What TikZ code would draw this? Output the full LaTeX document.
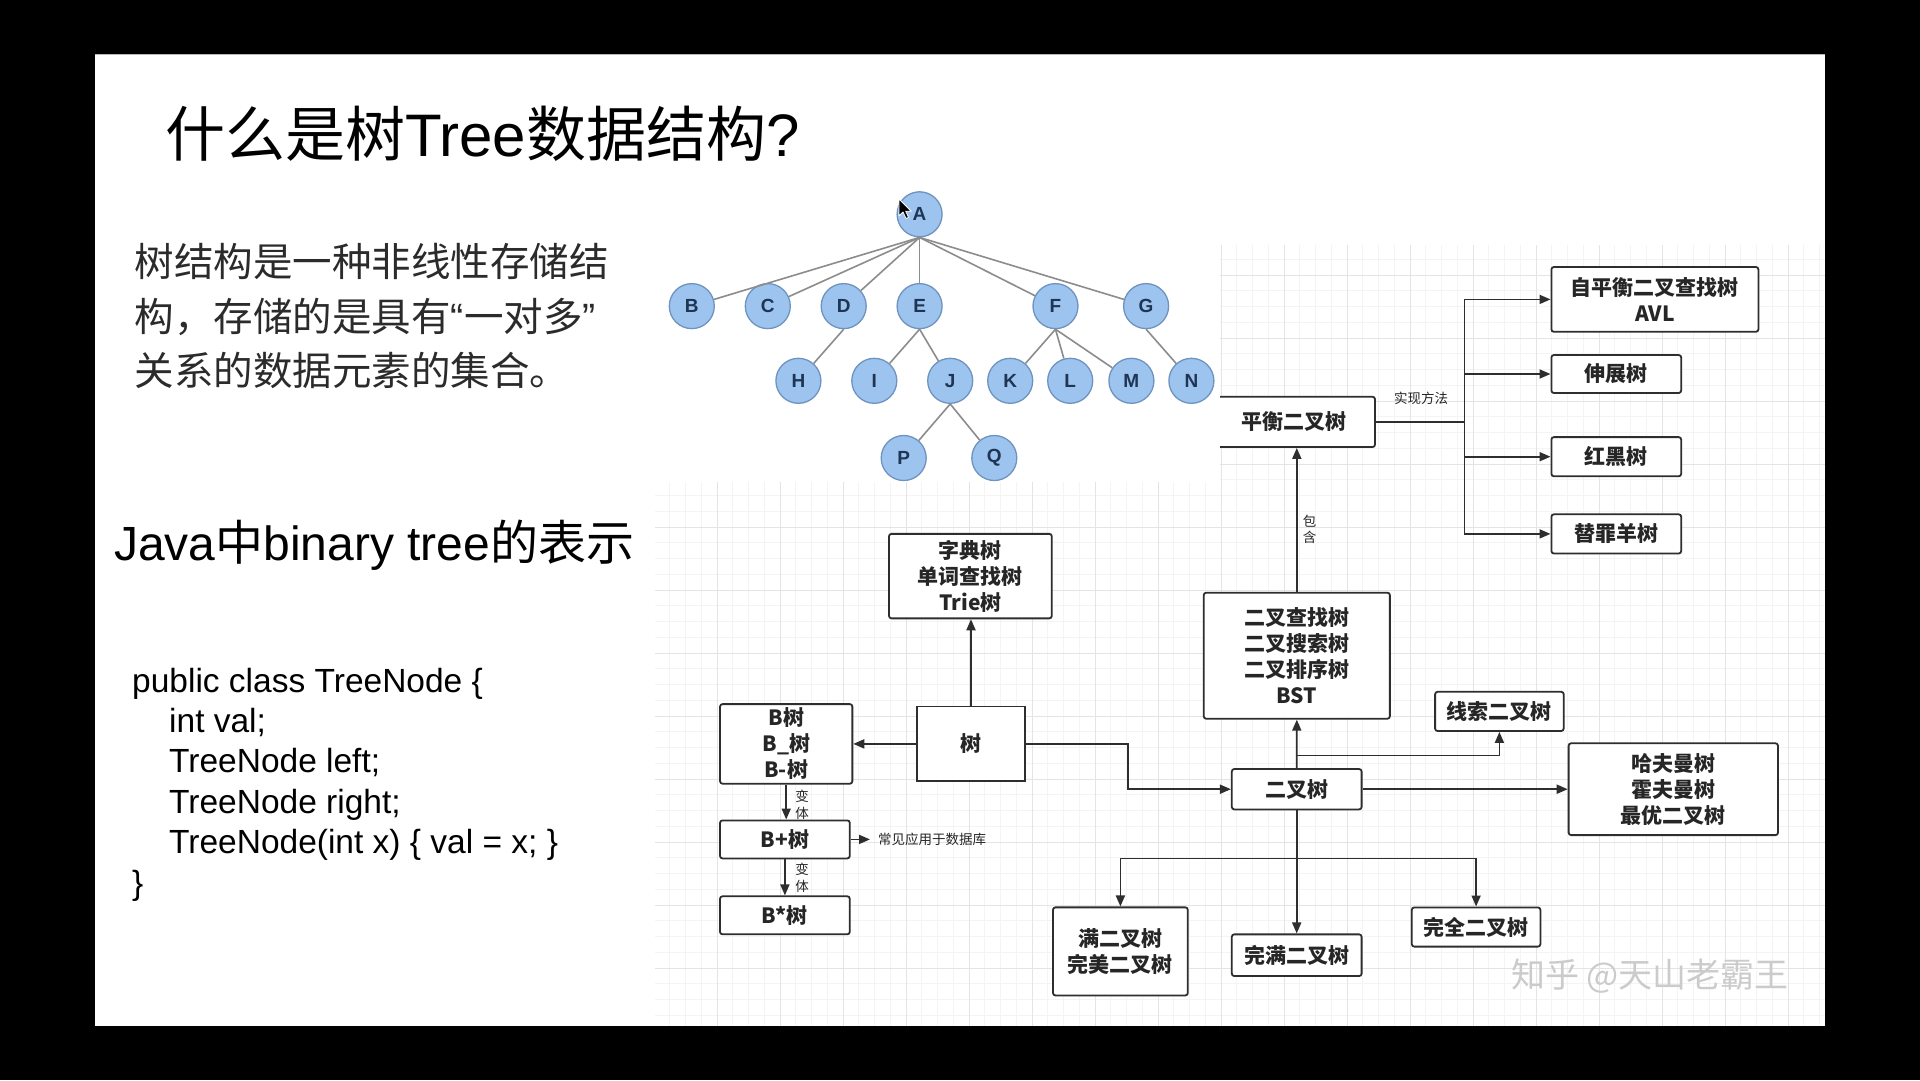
\documentclass[tikz,border=0pt]{standalone}
\usepackage{fontspec}
\setmainfont{Liberation Sans}
\newfontfamily\cjk{Noto Sans CJK SC}
\usetikzlibrary{arrows.meta}

\definecolor{tfill}{HTML}{9DC3EF}
\definecolor{tborder}{HTML}{6E93BF}
\definecolor{tlabel}{HTML}{1E3554}
\definecolor{tline}{HTML}{8C8C8C}
\definecolor{boxline}{HTML}{2E2E2E}
\definecolor{textdark}{HTML}{262626}
\definecolor{paracol}{HTML}{2B2B2B}
\definecolor{gridmajor}{HTML}{E4E4E4}
\definecolor{gridminor}{HTML}{F4F4F4}
\definecolor{wmark}{HTML}{CBCBCB}

\begin{document}
\begin{tikzpicture}[x=1pt,y=-1pt,
  tnode/.style={circle, fill=tfill, draw=tborder, line width=1.3pt, minimum size=45pt,
    inner sep=0pt, text=tlabel, font=\bfseries\fontsize{19}{19}\selectfont},
  tedge/.style={draw=tline, line width=1.6pt},
  box/.style={draw=boxline, line width=1.8pt, rounded corners=2.5pt, fill=white,
    align=center, inner sep=0pt, text=textdark,
    font=\cjk\bfseries\fontsize{21}{26}\selectfont},
  conn/.style={draw=boxline, line width=1.8pt},
  arr/.style={conn, -{Triangle[length=11pt,width=9pt]}},
  lbl/.style={inner sep=0pt, text=textdark, align=center,
    font=\cjk\fontsize{13.5}{16}\selectfont},
  para/.style={anchor=base west, inner sep=0pt, text=paracol,
    font=\cjk\fontsize{39.5}{40}\selectfont},
  code/.style={anchor=base west, inner sep=0pt, text=black,
    font=\fontsize{33.5}{34}\selectfont}
]
\useasboundingbox (0,0) rectangle (1920,1080);

% screen and slide
\fill[black] (0,0) rectangle (1920,1080);
\fill[white] (95,54) rectangle (1825,1026);
\draw[gray!55, line width=1pt] (95,54.5) -- (1825,54.5);

% drawing-board grid behind the flowchart
\begin{scope}
  \clip (655,245) rectangle (1825,1026);
  \foreach \m in {0,...,74} \draw[gridminor, line width=0.6pt] ({654+15.75*\m},245) -- ({654+15.75*\m},1026);
  \foreach \m in {0,...,52} \draw[gridminor, line width=0.6pt] (655,{212+15.75*\m}) -- (1825,{212+15.75*\m});
  \foreach \k in {0,...,17} \draw[gridmajor, line width=1pt] ({717+63*\k},245) -- ({717+63*\k},1026);
  \foreach \k in {0,...,12} \draw[gridmajor, line width=1pt] (655,{275+63*\k}) -- (1825,{275+63*\k});
\end{scope}

% ---------- flowchart of tree kinds ----------
\node[box, minimum width=163pt, minimum height=50.3pt] (ph) at (1293.5,421.9) {平衡二叉树};
\node[box, minimum width=207pt, minimum height=64.8pt] (avl) at (1654.9,299.4) {自平衡二叉查找树\\AVL};
\node[box, minimum width=129.8pt, minimum height=38pt] (splay) at (1616.3,374) {伸展树};
\node[box, minimum width=129.8pt, minimum height=39.2pt] (rb) at (1616.3,456.7) {红黑树};
\node[box, minimum width=129.8pt, minimum height=39.2pt] (sg) at (1616.3,533.9) {替罪羊树};

\node[box, minimum width=162.8pt, minimum height=84.5pt] (trie) at (970.4,576.1) {字典树\\单词查找树\\Trie树};
\node[box, rounded corners=0pt, minimum width=107.7pt, minimum height=74.7pt] (shu) at (971,743.9) {树};
\node[box, minimum width=132.3pt, minimum height=79.6pt] (bt) at (786.2,743.9) {B树\\B\_树\\B-树};
\node[box, minimum width=129.8pt, minimum height=38pt] (bplus) at (784.9,839.4) {B+树};
\node[box, minimum width=129.8pt, minimum height=38pt] (bstar) at (784.9,915.3) {B*树};
\node[lbl, anchor=west] (dbnote) at (878,839.4) {常见应用于数据库};

\node[box, minimum width=186.1pt, minimum height=126.1pt] (bst) at (1296.8,655.7) {二叉查找树\\二叉搜索树\\二叉排序树\\BST};
\node[box, minimum width=129.8pt, minimum height=40.4pt] (bin) at (1296.7,789.2) {二叉树};
\node[box, minimum width=128.6pt, minimum height=39.2pt] (thr) at (1499.4,711.4) {线索二叉树};
\node[box, minimum width=209.4pt, minimum height=91.8pt] (huff) at (1673.3,789.2) {哈夫曼树\\霍夫曼树\\最优二叉树};
\node[box, minimum width=134.8pt, minimum height=88.1pt] (full) at (1120.4,951.4) {满二叉树\\完美二叉树};
\node[box, minimum width=129.8pt, minimum height=41.7pt] (strict) at (1296.7,955.2) {完满二叉树};
\node[box, minimum width=128.6pt, minimum height=39.2pt] (comp) at (1476.1,927) {完全二叉树};

% labels on connectors
\node[lbl] (impl) at (1421,398) {实现方法};
\node[lbl] (incl) at (1309.5,529) {包\\含};
\node[lbl, font=\cjk\fontsize{13.5}{16.5}\selectfont] (var1) at (802,805) {变\\体};
\node[lbl, font=\cjk\fontsize{13.5}{16.5}\selectfont] (var2) at (802,878) {变\\体};

% balanced tree implementations
\coordinate (trunk) at (1464.5,421.9);
\draw[conn] (ph.east) -- (trunk);
\draw[arr] (trunk) |- (avl.west);
\draw[arr] (trunk) |- (splay.west);
\draw[arr] (trunk) |- (rb.west);
\draw[arr] (trunk) |- (sg.west);

% tree and its branches
\draw[arr] (shu.north) -- (shu.north |- trie.south);
\draw[arr] (shu.west) -- (bt.east);
\draw[arr] (bt.south) -- (bt.south |- bplus.north);
\draw[arr] (bplus.south) -- (bplus.south |- bstar.north);
\draw[arr] (bplus.east) -- ([xshift=-8pt]dbnote.west);
\coordinate (bend) at (1127.8,743.9);
\draw[arr] (shu.east) -- (bend) |- (bin.west);

% binary tree and its kinds
\draw[arr] (bin.north) -- (bst.south);
\draw[arr] (bst.north) -- (bst.north |- ph.south);
\coordinate (fork) at (1296.7,755.5);
\draw[arr] (fork) -| (thr.south);
\draw[arr] (bin.east) -- (huff.west);
\draw[arr] (bin.south) -- (strict.north);
\coordinate (bar) at (1296.7,858.4);
\draw[arr] (bar) -| (full.north);
\draw[arr] (bar) -| (comp.north);

% white backing of the general tree
\fill[white] (655,175) rectangle (1220,482);

% ---------- general tree A..Q ----------
\node[tnode] (A) at (919.6,214.3) {A};
\node[tnode] (B) at (691.8,306.1) {B};
\node[tnode] (C) at (767.8,306.1) {C};
\node[tnode] (D) at (843.7,306.1) {D};
\node[tnode] (E) at (919.6,306.1) {E};
\node[tnode] (F) at (1055.5,306.1) {F};
\node[tnode] (G) at (1146.1,306.1) {G};
\node[tnode] (H) at (798.4,380.8) {H};
\node[tnode] (I) at (874.3,380.8) {I};
\node[tnode] (J) at (950.2,380.8) {J};
\node[tnode] (K) at (1010.2,380.8) {K};
\node[tnode] (L) at (1070.2,380.8) {L};
\node[tnode] (M) at (1131.4,380.8) {M};
\node[tnode] (N) at (1191.4,380.8) {N};
\node[tnode] (P) at (903.7,458) {P};
\node[tnode] (Q) at (994.3,458) {Q};

\foreach \c in {B,C,D,E,F,G} \draw[tedge] (A.south) -- (\c);
\draw[tedge] (D.south) -- (H);
\foreach \c in {I,J} \draw[tedge] (E.south) -- (\c);
\foreach \c in {K,L,M} \draw[tedge] (F.south) -- (\c);
\draw[tedge] (G.south) -- (N);
\foreach \c in {P,Q} \draw[tedge] (J.south) -- (\c);

% mouse pointer
\coordinate (ptr) at (899,199);
\filldraw[fill=black, draw=white, line width=0.8pt, line join=round]
  (ptr) -- ++(0,17) -- ++(4,-4) -- ++(3,6.5) -- ++(2.6,-1.1) -- ++(-3,-6.2) -- ++(5.6,0) -- cycle;

% ---------- slide text ----------
\node[anchor=base west, inner sep=0pt, text=black, font=\fontsize{60}{60}\selectfont]
  (title) at (165,156) {{\cjk 什么是树}Tree{\cjk 数据结构}?};

\node[para] (p1) at (134.7,276) {树结构是一种非线性存储结};
\node[para] (p2) at (134.7,331) {构，存储的是具有{\rmfamily “}一对多{\rmfamily ”}};
\node[para] (p3) at (134.7,385) {关系的数据元素的集合。};

\node[anchor=base west, inner sep=0pt, text=black, font=\fontsize{48}{48}\selectfont]
  (java) at (114,560) {Java{\cjk 中}binary tree{\cjk 的表示}};

\node[code] (c1) at (132,692) {public class TreeNode \{};
\node[code] (c2) at (169,732) {int val;};
\node[code] (c3) at (169,772.5) {TreeNode left;};
\node[code] (c4) at (169,813) {TreeNode right;};
\node[code] (c5) at (169,853) {TreeNode(int x) \{ val = x; \}};
\node[code] (c6) at (132,894) {\}};

% watermark
\node[inner sep=0pt, text=wmark, font=\cjk\fontsize{34}{34}\selectfont] (wm) at (1650,976) {知乎 @天山老霸王};

\end{tikzpicture}
\end{document}
